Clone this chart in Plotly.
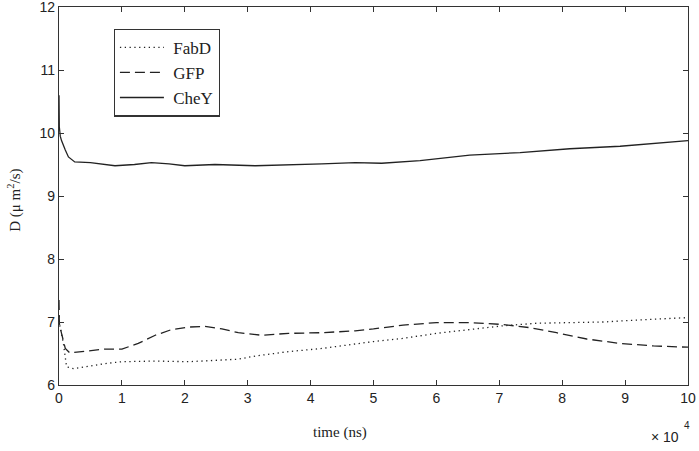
import plotly.graph_objects as go

# time in units of 10^4 ns
t_chey = [0, 0.005, 0.02, 0.04, 0.1, 0.15, 0.25, 0.5, 0.89, 1.2, 1.47, 1.75, 2.0, 2.48,
          3.12, 3.59, 4.18, 4.71, 5.13, 5.74, 6.53, 7.33, 8.12, 8.92, 9.71, 10]
d_chey = [10.6, 10.1, 9.95, 9.88, 9.73, 9.62, 9.54, 9.53, 9.48, 9.5, 9.53, 9.51, 9.48, 9.50,
          9.48, 9.49, 9.51, 9.53, 9.52, 9.56, 9.65, 9.69, 9.75, 9.79, 9.85, 9.88]

t_gfp = [0, 0.005, 0.04, 0.1, 0.17, 0.47, 0.73, 1.0, 1.26, 1.53, 1.79, 2.06, 2.32, 2.59,
         2.85, 3.22, 3.65, 4.18, 4.71, 5.0, 5.47, 6.0, 6.53, 7.06, 7.49, 7.91, 8.39, 8.92,
         9.45, 10]
d_gfp = [7.35, 6.98, 6.82, 6.58, 6.51, 6.54, 6.57, 6.57, 6.66, 6.79, 6.88, 6.92, 6.93, 6.89,
         6.83, 6.79, 6.82, 6.83, 6.86, 6.89, 6.95, 6.99, 6.99, 6.96, 6.91, 6.83, 6.73, 6.66,
         6.62, 6.60]

t_fabd = [0, 0.005, 0.07, 0.12, 0.23, 0.47, 0.73, 1.0, 1.53, 2.06, 2.59, 2.85, 3.12, 3.65,
          4.18, 4.71, 5.0, 5.47, 6.0, 6.53, 7.06, 7.59, 8.12, 8.65, 9.18, 9.71, 10]
d_fabd = [7.1, 6.98, 6.66, 6.29, 6.26, 6.30, 6.34, 6.37, 6.38, 6.37, 6.39, 6.41, 6.46, 6.53,
          6.58, 6.65, 6.69, 6.74, 6.82, 6.88, 6.94, 6.98, 6.99, 7.0, 7.03, 7.05, 7.07]

x_ticks = list(range(0, 11))
y_ticks = list(range(6, 13))
series_names = ["FabD", "GFP", "CheY"]

serif = "Liberation Serif, Times New Roman, serif"
sans = "Liberation Sans, Arial, sans-serif"

fig = go.Figure()
fig.add_trace(go.Scatter(x=t_fabd, y=d_fabd, mode="lines", name="\u00a0" + series_names[0],
                         line=dict(color="#222", width=1.3, dash="1.3px,3.5px")))
fig.add_trace(go.Scatter(x=t_gfp, y=d_gfp, mode="lines", name="\u00a0" + series_names[1],
                         line=dict(color="#222", width=1.3, dash="10px,5px")))
fig.add_trace(go.Scatter(x=t_chey, y=d_chey, mode="lines", name="\u00a0" + series_names[2],
                         line=dict(color="#222", width=1.3)))

axis_common = dict(showgrid=False, zeroline=False, showline=True, linecolor="#333",
                   linewidth=1.2, mirror="allticks", ticks="inside", ticklen=5,
                   tickcolor="#333", automargin=False, ticklabeloverflow="allow",
                   tickfont=dict(family=sans, size=14, color="#222"))

fig.update_xaxes(range=[0, 10], tickvals=x_ticks, ticktext=[str(v) for v in x_ticks],
                 **axis_common)
fig.update_yaxes(range=[6, 12], tickvals=y_ticks, ticktext=[str(v) for v in y_ticks],
                 **axis_common)

fig.update_layout(
    width=699, height=451,
    margin=dict(l=59, r=11, t=7, b=66, autoexpand=False),
    paper_bgcolor="white", plot_bgcolor="white",
    legend=dict(x=0.087, y=0.943, xanchor="left", yanchor="top",
                bordercolor="#333", borderwidth=1.2, bgcolor="white",
                font=dict(family=serif, size=17, color="#222"),
                itemwidth=44),
    annotations=[
        dict(text="time (ns)", xref="paper", yref="paper", x=0.447, y=-0.125,
             xanchor="center", yanchor="middle", showarrow=False,
             font=dict(family=serif, size=15, color="#222")),
        dict(text="D (μ m<sup>2</sup>/s)", xref="paper", yref="paper", x=-0.07, y=0.49,
             xanchor="center", yanchor="middle", showarrow=False, textangle=-90,
             font=dict(family=serif, size=15, color="#222")),
        dict(text="× 10", xref="paper", yref="paper", x=0.989, y=-0.1376,
             xanchor="right", yanchor="middle", showarrow=False,
             font=dict(family=sans, size=14, color="#222")),
        dict(text="4", xref="paper", yref="paper", x=0.998, y=-0.106,
             xanchor="center", yanchor="middle", showarrow=False,
             font=dict(family=sans, size=10, color="#222")),
    ],
)

fig.write_html("out.html", config={"displayModeBar": False},
               post_script="document.body.style.margin='0';document.body.style.padding='0';")
